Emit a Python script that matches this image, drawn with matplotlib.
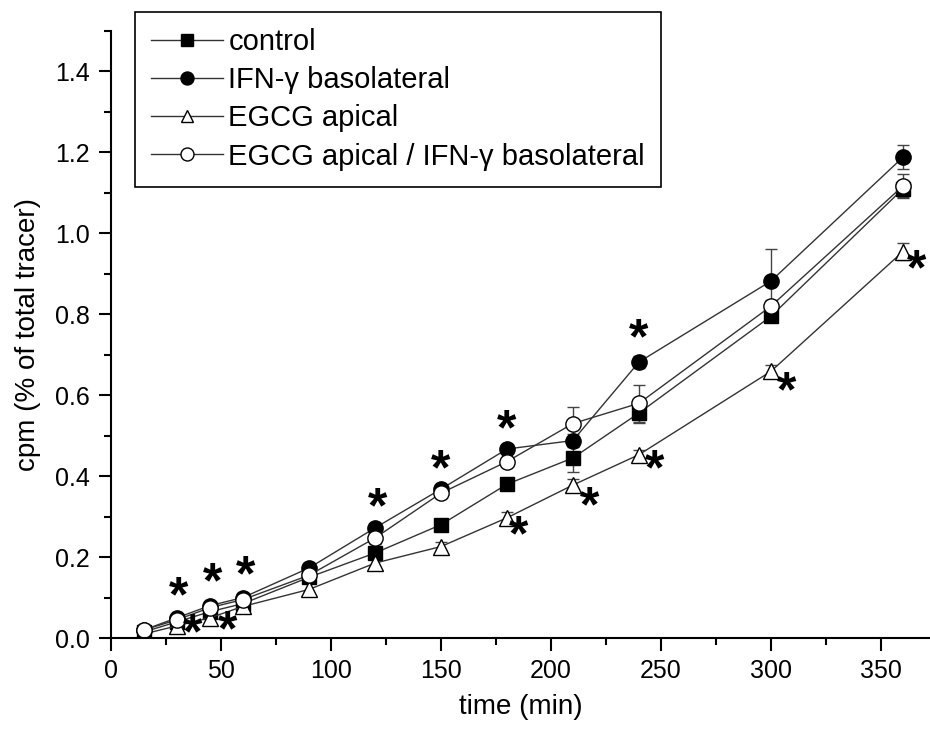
import matplotlib
matplotlib.use('Agg')
import matplotlib.pyplot as plt
from matplotlib.lines import Line2D
from matplotlib.ticker import MultipleLocator

plt.rcParams['font.family'] = ['Liberation Sans', 'DejaVu Sans']

# data
time_min = [15, 30, 45, 60, 90, 120, 150, 180, 210, 240, 300, 360]

control = [0.015, 0.04, 0.065, 0.085, 0.15, 0.21, 0.28, 0.38, 0.445, 0.556, 0.795, 1.11]
control_err = [0.005, 0.008, 0.01, 0.01, 0.012, 0.015, 0.012, 0.012, 0.035, 0.025, 0.015, 0.02]

ifn = [0.02, 0.05, 0.08, 0.10, 0.173, 0.272, 0.368, 0.467, 0.488, 0.682, 0.882, 1.188]
ifn_err = [0.005, 0.008, 0.008, 0.01, 0.012, 0.012, 0.01, 0.01, 0.015, 0.015, 0.08, 0.03]

egcg = [0.01, 0.03, 0.05, 0.078, 0.12, 0.185, 0.226, 0.297, 0.378, 0.453, 0.659, 0.955]
egcg_err = [0.005, 0.01, 0.012, 0.012, 0.015, 0.015, 0.012, 0.015, 0.015, 0.012, 0.015, 0.02]

combo = [0.02, 0.045, 0.075, 0.095, 0.155, 0.247, 0.358, 0.436, 0.53, 0.58, 0.82, 1.117]
combo_err = [0.005, 0.008, 0.01, 0.01, 0.012, 0.015, 0.012, 0.012, 0.04, 0.045, 0.015, 0.03]

labels = ['control', 'IFN-γ basolateral', 'EGCG apical',
          'EGCG apical / IFN-γ basolateral']

# significance asterisks
star_x = [30.5, 46, 61, 121, 150, 180, 240, 37, 53, 185.5, 217.5, 247, 307, 366]
star_y = [0.11, 0.145, 0.163, 0.33, 0.424, 0.523, 0.748, 0.02, 0.027, 0.26, 0.334, 0.423, 0.618, 0.919]

fig = plt.figure(figsize=(9.3, 7.31), dpi=100)
ax = fig.add_axes([111 / 930, 93 / 731, 1 - 111 / 930, (638 - 31) / 731])

series = [
    (control, control_err, 's', 'black', labels[0]),
    (ifn, ifn_err, 'o', 'black', labels[1]),
    (egcg, egcg_err, '^', 'white', labels[2]),
    (combo, combo_err, 'o', 'white', labels[3]),
]
msizes = {'s': 9.5, 'o': 11, '^': 11}
handles = []
for vals, err, mk, fc, lab in series:
    ax.errorbar(time_min, vals, yerr=err, color='#333333', lw=1.0,
                marker=mk, ms=msizes[mk], mfc=fc, mec='black', mew=1.0,
                ecolor='#444444', elinewidth=1.0, capsize=4.5, capthick=1.0)
    handles.append(Line2D([], [], color='#333333', lw=1.0, marker=mk,
                          ms=msizes[mk] * 0.85, mfc=fc, mec='black', mew=1.0,
                          label=lab))

for sx, sy in zip(star_x, star_y):
    ax.text(sx, sy, '*', fontsize=36, fontweight='bold', ha='center',
            va='center_baseline')

ax.set_xlim(0, 372.3)
ax.set_ylim(0, 1.5)
ax.xaxis.set_major_locator(MultipleLocator(50))
ax.xaxis.set_minor_locator(MultipleLocator(25))
ax.yaxis.set_minor_locator(MultipleLocator(0.1))
ax.set_yticks([0, 0.2, 0.4, 0.6, 0.8, 1.0, 1.2, 1.4])
ax.yaxis.set_major_formatter(plt.FormatStrFormatter('%.1f'))

for s in ['top', 'right']:
    ax.spines[s].set_visible(False)
for s in ['left', 'bottom']:
    ax.spines[s].set_linewidth(1.5)

ax.tick_params(which='major', length=9, width=1.5, labelsize=18, pad=6)
ax.tick_params(which='minor', length=4.8, width=1.5)

ax.set_xlabel('time (min)', fontsize=20, labelpad=8)
ax.set_ylabel('cpm (% of total tracer)', fontsize=20, labelpad=10)

leg = fig.legend(handles=handles, loc='upper left',
                 bbox_to_anchor=(135 / 930, 1 - 12 / 731), borderaxespad=0,
                 fontsize=21, handlelength=2.45, handletextpad=0.2,
                 labelspacing=0.35, borderpad=0.55, fancybox=False,
                 edgecolor='black', framealpha=1)
leg.get_frame().set_linewidth(1.2)

fig.savefig('out.png', dpi=100)
